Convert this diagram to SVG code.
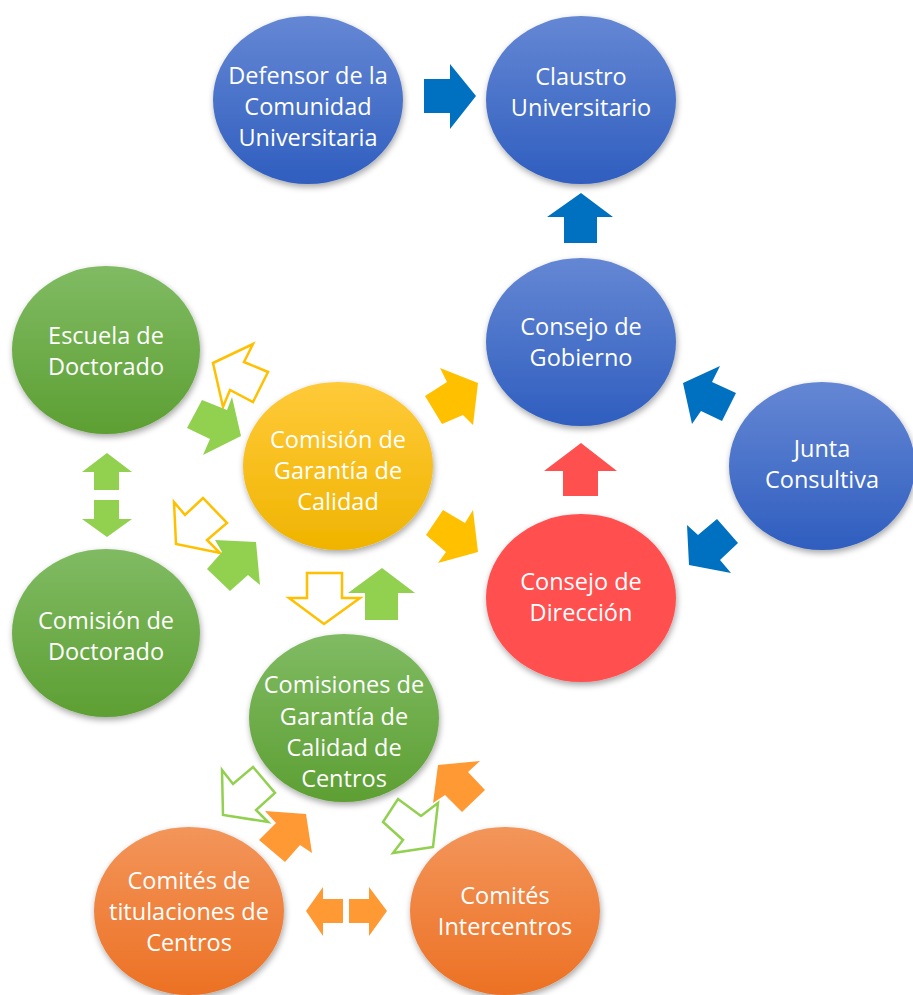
<svg xmlns="http://www.w3.org/2000/svg" width="913" height="995" viewBox="0 0 913 995">
<defs>
<linearGradient id="gBlue" x1="0" y1="0" x2="0" y2="1"><stop offset="0" stop-color="#6587d4"/><stop offset="1" stop-color="#2f5ebf"/></linearGradient>
<linearGradient id="gGreen" x1="0" y1="0" x2="0" y2="1"><stop offset="0" stop-color="#80bb63"/><stop offset="1" stop-color="#5d9f33"/></linearGradient>
<linearGradient id="gYellow" x1="0" y1="0" x2="0" y2="1"><stop offset="0" stop-color="#ffca3a"/><stop offset="1" stop-color="#f0b400"/></linearGradient>
<linearGradient id="gOrange" x1="0" y1="0" x2="0" y2="1"><stop offset="0" stop-color="#f3955a"/><stop offset="1" stop-color="#ec7124"/></linearGradient>
<filter id="sh" x="-20%" y="-20%" width="140%" height="140%"><feDropShadow dx="1" dy="3" stdDeviation="3" flood-color="#000" flood-opacity="0.35"/></filter>
</defs>
<style>
text{font-family:"Open Sans","Liberation Sans",sans-serif;font-size:23.5px;fill:#fff;text-anchor:middle}
.blue{fill:url(#gBlue)}.green{fill:url(#gGreen)}.yellow{fill:url(#gYellow)}.orange{fill:url(#gOrange)}.red{fill:#ff5050}
ellipse{filter:url(#sh)}
.aB{fill:#0070c0}.aR{fill:#ff5050}.aY{fill:#ffc000}.aG{fill:#92d050}.aO{fill:#ff9933}
.oY{fill:#fff;stroke:#ffc000;stroke-width:2.5;stroke-linejoin:miter}
.oG{fill:#fff;stroke:#92d050;stroke-width:2.5;stroke-linejoin:miter}
</style>
<rect width="913" height="995" fill="#fff"/>
<g id="connectors">
<polygon class="aB" points="424,79 450,79 450,64 476,96 450,129 450,113 424,113"/>
<polygon class="aB" points="581,193 613,217 597,217 597,243 564,243 564,217 547,217"/>
<polygon class="aR" points="581,443 617,471 598,471 598,496 563,496 563,471 544,471"/>
<polygon class="aB" points="683,383 720,366 712,382 736,393 722,421 701,411 692,424"/>
<polygon class="aB" points="689,565 687,525 698,535 717,519 738,543 720,560 731,573"/>
<polygon class="aY" points="478,383 473,425 463,415 442,424 425,396 447,382 440,368"/>
<polygon class="aY" points="478,552 438,563 446,552 426,535 443,510 465,523 473,510"/>
<polygon class="oY" points="213,363 253,344 244,362 268,372 253,402 230,390 223,407"/>
<polygon class="aG" points="241,436 203,455 210,439 187,428 202,400 227,410 232,397"/>
<polygon class="aG" points="107,453 132,472 119,472 119,490 94,490 94,472 82,472"/>
<polygon class="aG" points="107,537 132,519 119,519 119,500 94,500 94,519 82,519"/>
<polygon class="oY" points="176,544 174,502 185,515 203,498 227,523 207,540 220,553"/>
<polygon class="aG" points="256,542 260,585 248,575 230,591 207,569 222,552 215,540"/>
<polygon class="oY" points="307,573 342,573 342,598 360,598 324,624 289,598 307,598"/>
<polygon class="aG" points="382,568 415,593 398,593 398,620 365,620 365,593 348,593"/>
<polygon class="oG" points="223,815 222,770 233,784 253,767 275,793 256,810 268,822"/>
<polygon class="aO" points="306,814 312,853 300,845 285,862 259,840 276,823 265,811"/>
<polygon class="aO" points="438,765 480,761 468,772 485,790 462,812 445,795 433,803"/>
<polygon class="oG" points="433,847 393,853 403,840 383,822 398,799 421,816 438,803"/>
<polygon class="aO" points="306,911 323,887 323,899 343,899 343,923 323,923 323,936"/>
<polygon class="aO" points="387,911 369,887 369,899 349,899 349,923 369,923 369,936"/>
</g>
<g id="defensor"><ellipse class="blue" cx="308" cy="100" rx="95" ry="84"/><text x="308" y="84">Defensor de la</text><text x="308" y="115">Comunidad</text><text x="308" y="146">Universitaria</text></g>
<g id="claustro"><ellipse class="blue" cx="581" cy="100" rx="95" ry="84"/><text x="581" y="85">Claustro</text><text x="581" y="116">Universitario</text></g>
<g id="consejo-gobierno"><ellipse class="blue" cx="581" cy="342" rx="95" ry="84"/><text x="581" y="335">Consejo de</text><text x="581" y="366">Gobierno</text></g>
<g id="junta"><ellipse class="blue" cx="822" cy="466" rx="93" ry="84"/><text x="822" y="457">Junta</text><text x="822" y="488">Consultiva</text></g>
<g id="consejo-direccion"><ellipse class="red" cx="581" cy="598" rx="95" ry="84"/><text x="581" y="590">Consejo de</text><text x="581" y="621">Dirección</text></g>
<g id="cgc"><ellipse class="yellow" cx="338" cy="466" rx="95" ry="84"/><text x="338" y="448">Comisión de</text><text x="338" y="479">Garantía de</text><text x="338" y="510">Calidad</text></g>
<g id="escuela"><ellipse class="green" cx="106" cy="350" rx="94" ry="84"/><text x="106" y="344">Escuela de</text><text x="106" y="375">Doctorado</text></g>
<g id="comision-doctorado"><ellipse class="green" cx="106" cy="633" rx="94" ry="84"/><text x="106" y="629">Comisión de</text><text x="106" y="660">Doctorado</text></g>
<g id="cgcc"><ellipse class="green" cx="344" cy="718" rx="95" ry="84"/><text x="344" y="693">Comisiones de</text><text x="344" y="725">Garantía de</text><text x="344" y="756">Calidad de</text><text x="344" y="787">Centros</text></g>
<g id="comites-titulaciones"><ellipse class="orange" cx="189" cy="911" rx="95" ry="84"/><text x="189" y="889">Comités de</text><text x="189" y="920">titulaciones de</text><text x="189" y="951">Centros</text></g>
<g id="comites-intercentros"><ellipse class="orange" cx="505" cy="911" rx="95" ry="84"/><text x="505" y="904">Comités</text><text x="505" y="935">Intercentros</text></g>
</svg>
